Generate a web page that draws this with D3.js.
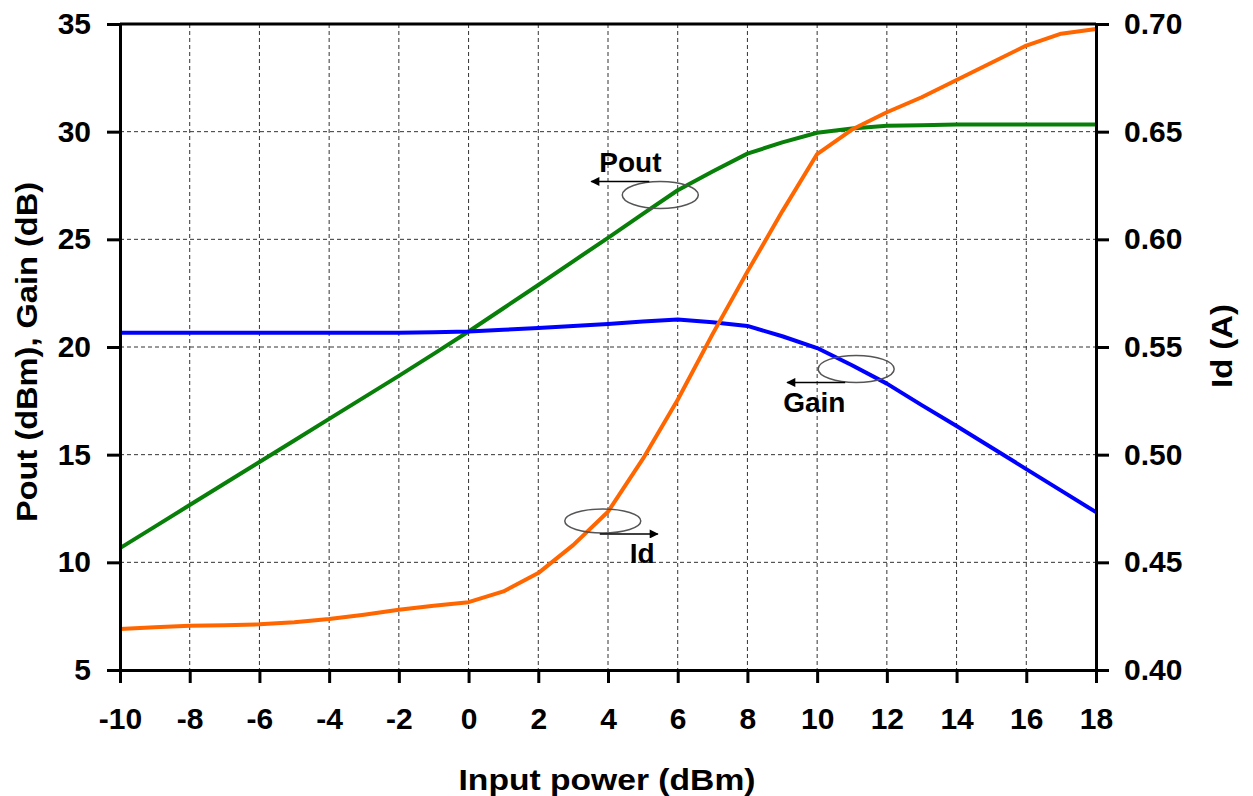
<!DOCTYPE html>
<html>
<head>
<meta charset="utf-8">
<script src="https://cdn.jsdelivr.net/npm/d3@7"></script>
<style>
  body { margin: 0; background: #fff; }
  text { font-family: "Liberation Sans", Arial, sans-serif; font-weight: bold; }
</style>
</head>
<body>
<div id="chart"></div>
<script>
// input power (dBm)
const pin = [-10,-9,-8,-7,-6,-5,-4,-3,-2,-1,0,1,2,3,4,5,6,7,8,9,10,11,12,13,14,15,16,17,18]
// output power (dBm)
const pout = [10.66,11.66,12.66,13.66,14.66,15.66,16.66,17.66,18.66,19.68,20.72,21.8,22.88,23.98,25.07,26.18,27.28,28.15,28.98,29.5,29.95,30.15,30.28,30.3,30.33,30.33,30.33,30.33,30.33]
// gain (dB)
const gain = [20.66,20.66,20.66,20.66,20.66,20.66,20.66,20.66,20.66,20.68,20.72,20.8,20.88,20.98,21.07,21.18,21.28,21.15,20.98,20.5,19.95,19.15,18.3,17.3,16.33,15.33,14.33,13.33,12.33]
// drain current (A)
const id = [0.419,0.4198,0.4205,0.4208,0.4212,0.4222,0.4237,0.4257,0.428,0.4298,0.4315,0.4365,0.445,0.458,0.4735,0.498,0.5255,0.556,0.585,0.613,0.6396,0.651,0.659,0.666,0.674,0.682,0.690,0.6955,0.6977]

const xTicks = [-10,-8,-6,-4,-2,0,2,4,6,8,10,12,14,16,18]
const yLeftTicks = [5,10,15,20,25,30,35]
const yRightTicks = [0.40,0.45,0.50,0.55,0.60,0.65,0.70]

// annotation anchors (data coords): label, ellipse centre x, y on left axis, arrow direction
const notes = [
  { label: 'Pout', x: 5.5, y: 27.06, dir: -1 },
  { label: 'Gain', x: 11.12, y: 18.98, dir: -1 },
  { label: 'Id', x: 3.85, y: 11.92, dir: 1 }
]

const W = 1253, H = 796
const m = { left: 120, right: 1096, top: 24, bottom: 670 }

const svg = d3.select('#chart').append('svg')
  .attr('width', W)
  .attr('height', H)

const x = d3.scaleLinear().domain([-10, 18]).range([m.left, m.right])
const yL = d3.scaleLinear().domain([5, 35]).range([m.bottom, m.top])
const yR = d3.scaleLinear().domain([0.40, 0.70]).range([m.bottom, m.top])

/* grid */
const grid = svg.append('g')
  .attr('stroke', '#333')
  .attr('stroke-width', 1)
  .attr('stroke-dasharray', '4,3')
grid.selectAll('.vg').data(xTicks.slice(1, -1)).enter().append('line')
  .attr('x1', d => x(d)).attr('x2', d => x(d))
  .attr('y1', m.top).attr('y2', m.bottom)
grid.selectAll('.hg').data(yLeftTicks.slice(1, -1)).enter().append('line')
  .attr('y1', d => yL(d)).attr('y2', d => yL(d))
  .attr('x1', m.left).attr('x2', m.right)

/* lines */
const pts = pin.map((p, i) => i)
function drawLine(yScale, vals, color) {
  const line = d3.line()
    .x(i => x(pin[i]))
    .y(i => yScale(vals[i]))
  svg.append('path')
    .attr('d', line(pts))
    .attr('fill', 'none')
    .attr('stroke', color)
    .attr('stroke-width', 4)
    .attr('stroke-linejoin', 'round')
}
drawLine(yL, pout, '#087f08')
drawLine(yL, gain, '#0000ff')
drawLine(yR, id, '#ff6600')

/* axes */
function styleAxis(g) {
  g.select('.domain').attr('stroke', '#000').attr('stroke-width', 3)
  g.selectAll('.tick line').attr('stroke', '#000').attr('stroke-width', 3)
  g.selectAll('.tick text').attr('fill', '#000').style('font-size', '30px')
    .style('font-family', '"Liberation Sans", Arial, sans-serif')
    .style('font-weight', 'bold')
}
const intFmt = d => String(d)   // plain hyphen minus like the original
svg.append('g')
  .attr('transform', `translate(0,${m.bottom})`)
  .call(d3.axisBottom(x).tickValues(xTicks).tickSize(13).tickSizeOuter(0).tickPadding(25).tickFormat(intFmt))
  .call(styleAxis)
svg.append('g')
  .attr('transform', `translate(${m.left},0)`)
  .call(d3.axisLeft(yL).tickValues(yLeftTicks).tickSize(13).tickSizeOuter(0).tickPadding(16).tickFormat(intFmt))
  .call(styleAxis)
svg.append('g')
  .attr('transform', `translate(${m.right},0)`)
  .call(d3.axisRight(yR).tickValues(yRightTicks).tickSize(13).tickSizeOuter(0).tickPadding(15).tickFormat(d3.format('.2f')))
  .call(styleAxis)
// top frame
svg.append('line')
  .attr('x1', m.left).attr('x2', m.right)
  .attr('y1', m.top).attr('y2', m.top)
  .attr('stroke', '#000').attr('stroke-width', 3)

/* titles */
svg.append('text')
  .attr('x', (m.left + m.right) / 2 - 1)
  .attr('y', 790)
  .attr('text-anchor', 'middle')
  .attr('textLength', 297)
  .attr('lengthAdjust', 'spacingAndGlyphs')
  .style('font-size', '29px')
  .text('Input power (dBm)')
svg.append('text')
  .attr('transform', 'translate(37,352) rotate(-90)')
  .attr('text-anchor', 'middle')
  .attr('textLength', 340)
  .attr('lengthAdjust', 'spacingAndGlyphs')
  .style('font-size', '29px')
  .text('Pout (dBm), Gain (dB)')
svg.append('text')
  .attr('transform', 'translate(1232,346) rotate(-90)')
  .attr('text-anchor', 'middle')
  .attr('textLength', 84)
  .attr('lengthAdjust', 'spacingAndGlyphs')
  .style('font-size', '29px')
  .text('Id (A)')

/* annotations */
svg.append('defs').append('marker')
  .attr('id', 'arr')
  .attr('viewBox', '0 0 10 10')
  .attr('refX', 9).attr('refY', 5)
  .attr('markerWidth', 10).attr('markerHeight', 9)
  .attr('markerUnits', 'userSpaceOnUse')
  .attr('orient', 'auto')
  .append('path').attr('d', 'M0,0L10,5L0,10z').attr('fill', '#000')

const rx = 38, ry = 13.5
notes.forEach(n => {
  const cx = x(n.x), cy = yL(n.y)
  svg.append('ellipse')
    .attr('cx', cx).attr('cy', cy)
    .attr('rx', rx).attr('ry', n.label == 'Id' ? 12 : ry)
    .attr('fill', 'none')
    .attr('stroke', '#555')
    .attr('stroke-width', 1.5)
  let ax, ay, tx, ty
  if (n.label == 'Pout') {
    ax = cx - 11; ay = cy - ry
    tx = cx - 61; ty = cy - 23
  } else if (n.label == 'Gain') {
    ax = cx - 11; ay = cy + ry
    tx = cx - 73; ty = cy + 43
  } else {
    ax = cx - 3; ay = cy + 13
    tx = cx + 27; ty = cy + 42
  }
  svg.append('line')
    .attr('x1', ax).attr('y1', ay)
    .attr('x2', ax + n.dir * 58).attr('y2', ay)
    .attr('stroke', '#000')
    .attr('stroke-width', 1.5)
    .attr('marker-end', 'url(#arr)')
  svg.append('text')
    .attr('x', tx).attr('y', ty)
    .style('font-size', '28px')
    .text(n.label)
})
</script>
</body>
</html>
